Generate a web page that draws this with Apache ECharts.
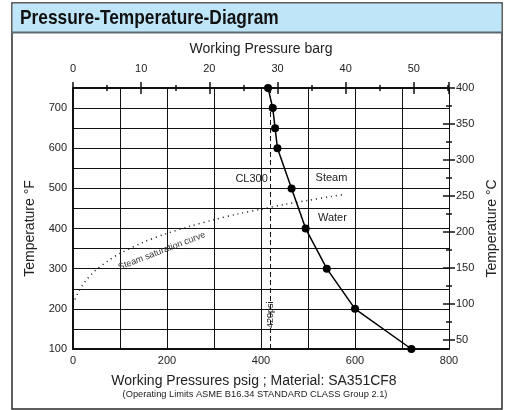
<!DOCTYPE html>
<html>
<head>
<meta charset="utf-8">
<script src="https://cdn.jsdelivr.net/npm/echarts@6/dist/echarts.min.js"></script>
<style>
  html, body { margin: 0; padding: 0; background: #fff; }
  #main { width: 511px; height: 410px; }
</style>
</head>
<body>
<div id="main"></div>
<script>
// CL300 rating, group 2.1 (psig vs degF)
var ratingPsig = [720, 600, 540, 495, 465, 435, 430, 425, 415];
var ratingTempF = [100, 200, 300, 400, 500, 600, 650, 700, 750];

// steam saturation curve (psig vs degF)
var satPsig = [0, 10, 20, 30, 40, 50, 75, 100, 150, 200, 250, 300, 350, 400, 450, 500, 550, 580];
var satTempF = [212, 239, 259, 274, 287, 298, 320, 338, 366, 388, 406, 422, 436, 448, 460, 470, 480, 485];

var limitPsig = 420;

// right axis ticks (degC)
var cTicks = [50, 100, 150, 200, 250, 300, 350, 400];
var cMinorTicks = [75, 125, 175, 225, 275, 325, 375];

var PSI_PER_BAR = 14.5038;
var fMin = 100, fMax = 750, psiMax = 800;
var cMin = (fMin - 32) / 1.8;

var font = 'Liberation Sans';

function pairs(xs, ys) {
    var out = [];
    for (var i = 0; i < xs.length; i++) out.push([xs[i], ys[i]]);
    return out;
}

var myChart = echarts.init(document.getElementById('main'));
var option = {
    backgroundColor: '#fff',
    animation: false,
    textStyle: { fontFamily: font },
    graphic: [
        { type: 'rect', z: -10, shape: { x: 12, y: 3, width: 490, height: 406 },
          style: { fill: '#fff', stroke: '#2a2a2a', lineWidth: 1.5 } },
        { type: 'rect', z: -9, shape: { x: 12.5, y: 3.5, width: 489, height: 29 },
          style: { fill: '#bfe5f9', stroke: null } },
        { type: 'line', z: -8, shape: { x1: 12, y1: 32.5, x2: 502, y2: 32.5 },
          style: { stroke: '#5b6a70', lineWidth: 2 } },
        { type: 'text', z: 10, x: 20, y: 18, scaleX: 0.825,
          style: { text: 'Pressure-Temperature-Diagram', fill: '#111',
                   font: 'bold 21px "Liberation Sans"', verticalAlign: 'middle' } }
    ],
    title: {
        text: '(Operating Limits ASME B16.34 STANDARD CLASS Group 2.1)',
        left: 255, top: 390, textAlign: 'center', padding: 0,
        textStyle: { fontSize: 9.3, fontWeight: 'normal', color: '#222' }
    },
    grid: [
        { left: 73, right: 62, top: 88, bottom: 61 },
        { left: 73, right: 56, top: 88, bottom: 61 },
        { left: 73, right: 59, top: 88, bottom: 61 }
    ],
    xAxis: [
        {
            type: 'value', position: 'bottom', min: 0, max: psiMax, interval: 100,
            name: 'Working Pressures psig ; Material: SA351CF8',
            nameLocation: 'middle', nameGap: 25,
            nameTextStyle: { fontSize: 14, color: '#222', padding: [0, 14, 0, 0] },
            axisLine: { onZero: false, lineStyle: { color: '#111', width: 2 } },
            axisTick: { show: false },
            axisLabel: {
                fontSize: 11, color: '#222', margin: 6,
                formatter: function (v) { return v % 200 === 0 ? v : ''; }
            },
            splitLine: { show: true, lineStyle: { color: '#111', width: 1 } }
        },
        {
            type: 'value', position: 'top', min: 0, max: psiMax / PSI_PER_BAR, interval: 10,
            name: 'Working Pressure barg',
            nameLocation: 'middle', nameGap: 32,
            nameTextStyle: { fontSize: 14, color: '#222' },
            axisLine: { onZero: false, lineStyle: { color: '#111', width: 2 } },
            axisTick: { show: false },
            axisLabel: { fontSize: 11, color: '#222', margin: 14 },
            splitLine: { show: false }
        },
        {
            // crossing major ticks
            type: 'value', position: 'top', offset: 6, min: 0, max: psiMax / PSI_PER_BAR, interval: 10,
            axisLine: { show: false, onZero: false },
            axisTick: { show: true, inside: true, length: 12, lineStyle: { color: '#111', width: 1.5 } },
            axisLabel: { show: false },
            splitLine: { show: false }
        },
        {
            // crossing minor ticks
            type: 'value', position: 'top', offset: 3, min: 0, max: psiMax / PSI_PER_BAR, interval: 5,
            axisLine: { show: false, onZero: false },
            axisTick: { show: true, inside: true, length: 6, lineStyle: { color: '#111', width: 1.5 } },
            axisLabel: { show: false },
            splitLine: { show: false }
        },
        { gridIndex: 1, type: 'value', show: false, min: 0, max: 1 },
        { gridIndex: 2, type: 'value', show: false, min: 0, max: 1 }
    ],
    yAxis: [
        {
            type: 'value', position: 'left', min: fMin, max: fMax, interval: 50,
            name: 'Temperature °F',
            nameLocation: 'middle', nameGap: 36,
            nameTextStyle: { fontSize: 14, color: '#222', padding: [0, 20, 0, 0] },
            axisLine: { show: true, onZero: false, lineStyle: { color: '#111', width: 2 } },
            axisTick: { show: false },
            axisLabel: {
                fontSize: 11, color: '#222', margin: 6,
                formatter: function (v) { return v % 100 === 0 ? v : ''; }
            },
            splitLine: { show: true, lineStyle: { color: '#111', width: 1 } }
        },
        {
            type: 'value', position: 'right', min: cMin, max: 400,
            name: 'Temperature °C',
            nameLocation: 'middle', nameGap: 28,
            nameTextStyle: { fontSize: 14, color: '#222', padding: [0, 20, 0, 0] },
            axisLine: { show: true, onZero: false, lineStyle: { color: '#111', width: 1 } },
            axisTick: { show: false },
            axisLabel: { fontSize: 11, color: '#222', margin: 7, customValues: cTicks },
            splitLine: { show: false }
        },
        {
            // crossing major ticks
            gridIndex: 1, type: 'value', position: 'right', min: cMin, max: 400,
            axisLine: { show: false, onZero: false },
            axisTick: { show: true, inside: true, length: 12, customValues: cTicks,
                        lineStyle: { color: '#111', width: 1.5 } },
            axisLabel: { show: false },
            splitLine: { show: false }
        },
        {
            // crossing minor ticks
            gridIndex: 2, type: 'value', position: 'right', min: cMin, max: 400,
            axisLine: { show: false, onZero: false },
            axisTick: { show: true, inside: true, length: 6, customValues: cMinorTicks,
                        lineStyle: { color: '#111', width: 1.5 } },
            axisLabel: { show: false },
            splitLine: { show: false }
        }
    ],
    series: [
        {
            name: 'Steam saturation curve',
            type: 'line',
            xAxisIndex: 0, yAxisIndex: 0,
            smooth: 0.3,
            showSymbol: false,
            lineStyle: { color: '#111', width: 1.5, type: [1, 4] },
            data: pairs(satPsig, satTempF),
            markPoint: {
                symbol: 'circle', symbolSize: 0,
                label: { show: true, fontSize: 9, color: '#333', rotate: 21 },
                data: [{ coord: [189, 344], value: 'Steam saturation curve' }]
            }
        },
        {
            name: 'CL300',
            type: 'line',
            xAxisIndex: 0, yAxisIndex: 0,
            symbol: 'circle', symbolSize: 8,
            itemStyle: { color: '#000' },
            lineStyle: { color: '#000', width: 1.5 },
            data: pairs(ratingPsig, ratingTempF),
            markLine: {
                silent: true, symbol: 'none',
                lineStyle: { color: '#111', width: 1, type: [5, 3] },
                label: {
                    show: true, position: 'insideStart', distance: 21,
                    fontSize: 9, color: '#222',
                    formatter: limitPsig + 'psi'
                },
                data: [{ xAxis: limitPsig }]
            },
            markPoint: {
                symbol: 'circle', symbolSize: 0,
                label: { show: true, fontSize: 11, color: '#222' },
                data: [
                    { coord: [380, 524], value: 'CL300' },
                    { coord: [550, 526], value: 'Steam' },
                    { coord: [552, 426], value: 'Water' }
                ]
            }
        }
    ]
};
myChart.setOption(option);
</script>
</body>
</html>
